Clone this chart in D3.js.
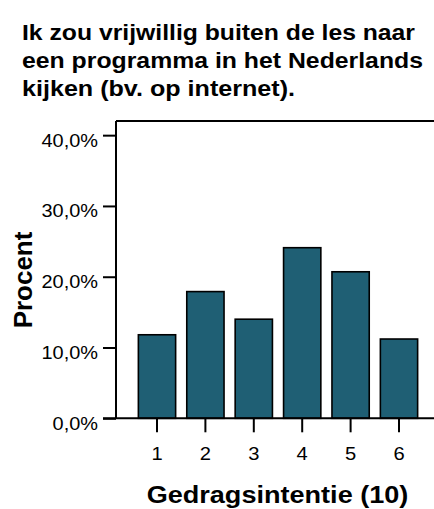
<!DOCTYPE html>
<html><head><meta charset="utf-8">
<script src="https://cdn.jsdelivr.net/npm/d3@7"></script>
<style>
html,body{margin:0;padding:0;background:#fff;}
svg{display:block;font-family:"Liberation Sans",Arial,sans-serif;}
</style></head>
<body>
<svg id="chart" width="434" height="509"></svg>
<script>
const titleLines = ["Ik zou vrijwillig buiten de les naar","een programma in het Nederlands","kijken (bv. op internet)."];
const categories = ["1","2","3","4","5","6"];
const values = [11.8, 17.9, 14.0, 24.1, 20.7, 11.2];
const yTicks = [0, 10, 20, 30, 40];
const xLabel = "Gedragsintentie (10)";
const yLabel = "Procent";

(function(){
const svg = d3.select("#chart");
const pLeft = 116, pRight = 423.2, pTop = 121, pBottom = 418.3;
const sx = 1.12;

const x = d3.scaleBand().domain(categories).range([132.8, pRight]).paddingInner(0.23).paddingOuter(0.115);
const y = d3.scaleLinear().domain([0, 42]).range([pBottom, pTop]);

// title
const tWidths = [393, 401, 273];
const tBase = [39.5, 67.5, 95.5];
titleLines.forEach((t,i)=>{
  svg.append("text").attr("x",22).attr("y",tBase[i])
    .attr("font-size",22).attr("font-weight","bold").attr("fill","#000")
    .attr("textLength",tWidths[i]).attr("lengthAdjust","spacingAndGlyphs").text(t);
});

// frame top line
svg.append("line").attr("x1",pLeft).attr("x2",434).attr("y1",pTop).attr("y2",pTop)
  .attr("stroke","#000").attr("stroke-width",2);

// bars
svg.append("g").selectAll("rect").data(values).join("rect")
  .attr("x",(d,i)=>x(categories[i])).attr("width",x.bandwidth())
  .attr("y",d=>y(d)).attr("height",d=>pBottom-y(d))
  .attr("fill","#1f5f74").attr("stroke","#000").attr("stroke-width",1.6);

// y axis
const yAxis = svg.append("g").attr("transform",`translate(${pLeft},0)`)
  .call(d3.axisLeft(y).tickValues(yTicks).tickSize(13).tickSizeOuter(0)
    .tickFormat(d=>d.toFixed(1).replace(".",",")+"%"));
yAxis.select(".domain").attr("stroke","#000").attr("stroke-width",2)
  .attr("d",`M0,${pTop}V${pBottom}`);
yAxis.selectAll(".tick line").attr("stroke","#000").attr("stroke-width",2);
yAxis.selectAll(".tick text").attr("x",null).attr("dy",null)
  .attr("font-size",17.8).attr("font-family","Liberation Sans, Arial, sans-serif")
  .attr("fill","#000").attr("text-anchor","end")
  .attr("transform",`translate(-18,11) scale(${sx},1)`);

// x axis
const xAxis = svg.append("g").attr("transform",`translate(0,${pBottom})`)
  .call(d3.axisBottom(x).tickSize(14).tickSizeOuter(0));
xAxis.select(".domain").attr("stroke","#000").attr("stroke-width",2)
  .attr("d",`M103,0H434`);
xAxis.selectAll(".tick line").attr("stroke","#000").attr("stroke-width",2);
xAxis.selectAll(".tick text").attr("y",null).attr("dy",null)
  .attr("font-size",18).attr("font-family","Liberation Sans, Arial, sans-serif")
  .attr("fill","#000").attr("text-anchor","middle")
  .attr("transform",`translate(0,42) scale(${sx},1)`);

// axis titles
svg.append("text").attr("x",277.5).attr("y",503).attr("text-anchor","middle")
  .attr("font-size",23).attr("font-weight","bold").attr("fill","#000")
  .attr("textLength",261.7).attr("lengthAdjust","spacingAndGlyphs").text(xLabel);
svg.append("text").attr("transform","translate(31.5,280) rotate(-90)")
  .attr("text-anchor","middle").attr("font-size",25).attr("font-weight","bold").attr("fill","#000")
  .attr("textLength",96.7).attr("lengthAdjust","spacingAndGlyphs").text(yLabel);
})();
</script>
</body></html>
